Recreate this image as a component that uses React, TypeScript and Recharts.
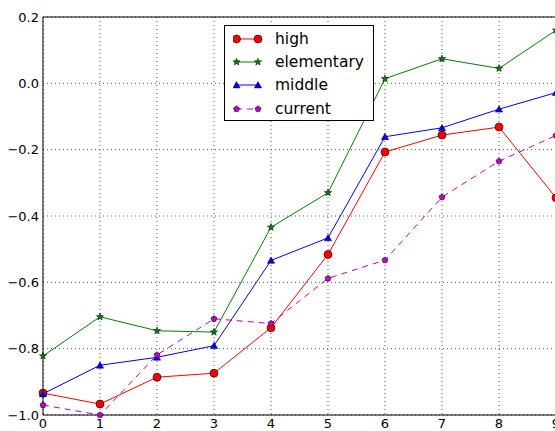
import { LineChart, Line, XAxis, YAxis, CartesianGrid, Legend, ReferenceLine } from "recharts";

const xs = [0, 1, 2, 3, 4, 5, 6, 7, 8, 9];
const high = [-0.934, -0.967, -0.886, -0.874, -0.737, -0.516, -0.207, -0.156, -0.132, -0.345];
const elementary = [-0.822, -0.704, -0.746, -0.75, -0.434, -0.33, 0.014, 0.074, 0.045, 0.16];
const middle = [-0.936, -0.85, -0.826, -0.791, -0.534, -0.466, -0.161, -0.134, -0.078, -0.028];
const current = [-0.97, -1.0, -0.819, -0.71, -0.724, -0.588, -0.533, -0.343, -0.235, -0.157];
const yTicks = [-1.0, -0.8, -0.6, -0.4, -0.2, 0.0, 0.2];

const rows = xs.map((x, i) => ({ x, high: high[i], elementary: elementary[i], middle: middle[i], current: current[i] }));

type Shape = "circle" | "star" | "triangle" | "pentagon";

const series: { key: string; color: string; shape: Shape; dashed?: boolean }[] = [
  { key: "high", color: "#ff0000", shape: "circle" },
  { key: "elementary", color: "#008000", shape: "star" },
  { key: "middle", color: "#0000ff", shape: "triangle" },
  { key: "current", color: "#bf00bf", shape: "pentagon", dashed: true },
];

const FONT = "'DejaVu Sans', sans-serif";

function polygon(cx: number, cy: number, pts: number, rOuter: number, rInner?: number) {
  const out: string[] = [];
  const n = rInner ? pts * 2 : pts;
  for (let i = 0; i < n; i++) {
    const r = rInner && i % 2 === 1 ? rInner : rOuter;
    const a = -Math.PI / 2 + (i * 2 * Math.PI) / n;
    out.push(`${cx + r * Math.cos(a)},${cy + r * Math.sin(a)}`);
  }
  return out.join(" ");
}

function Marker({ cx, cy, shape, color }: { cx: number; cy: number; shape: Shape; color: string }) {
  if (shape === "circle") return <circle cx={cx} cy={cy} r={4} fill={color} stroke="#000" strokeWidth={0.6} />;
  if (shape === "star")
    return <polygon points={polygon(cx, cy, 5, 3.8, 1.6)} fill={color} stroke="#000" strokeWidth={0.5} />;
  if (shape === "triangle")
    return <polygon points={polygon(cx, cy + 0.8, 3, 4.2)} fill={color} stroke="#000" strokeWidth={0.5} />;
  return <polygon points={polygon(cx, cy, 5, 3.2)} fill={color} stroke="#000" strokeWidth={0.5} />;
}

const fmt = (v: number) => v.toFixed(1).replace("-", "\u2212");

function LegendBox() {
  return (
    <div
      style={{
        border: "1px solid #000",
        background: "#fff",
        width: 148,
        padding: "1px 0 0 0",
        fontFamily: FONT,
        fontSize: 15.5,
        color: "#000",
      }}
    >
      {series.map((s) => (
        <div key={s.key} style={{ display: "flex", alignItems: "center", height: 23.3 }}>
          <svg width={30} height={14} style={{ marginLeft: 8, marginRight: 12 }}>
            <line x1={3} y1={7} x2={25} y2={7} stroke={s.color} strokeWidth={1} strokeDasharray={s.dashed ? "6 5" : undefined} />
            <Marker cx={3.5} cy={7} shape={s.shape} color={s.color} />
            <Marker cx={25} cy={7} shape={s.shape} color={s.color} />
          </svg>
          <span>{s.key}</span>
        </div>
      ))}
    </div>
  );
}

export default function App() {
  return (
    <div style={{ position: "absolute", left: 0, top: 0, width: 560, height: 431, background: "#fff" }}>
      <LineChart width={560} height={431} data={rows} margin={{ top: 17, right: 4, bottom: 0, left: 0 }}>
        <CartesianGrid stroke="#555" strokeDasharray="1 3" />
        <XAxis
          dataKey="x"
          type="number"
          domain={[0, 9]}
          ticks={xs}
          height={16}
          tickSize={0}
          tickMargin={4}
          axisLine={{ stroke: "#000" }}
          tick={{ fill: "#000", fontSize: 13, fontFamily: FONT }}
        />
        <YAxis
          type="number"
          domain={[-1, 0.2]}
          ticks={yTicks}
          width={43}
          tickSize={0}
          tickMargin={4}
          tickFormatter={fmt}
          axisLine={{ stroke: "#000" }}
          tick={{ fill: "#000", fontSize: 13, fontFamily: FONT }}
        />
        <ReferenceLine y={0.2} stroke="#000" />
        {series.map((s) => (
          <Line
            key={s.key}
            dataKey={s.key}
            name={s.key}
            type="linear"
            stroke={s.color}
            strokeWidth={1}
            strokeDasharray={s.dashed ? "6 5" : undefined}
            isAnimationActive={false}
            dot={(p: any) => <Marker key={`${s.key}-${p.index}`} cx={p.cx} cy={p.cy} shape={s.shape} color={s.color} />}
            activeDot={false}
          />
        ))}
        <Legend
          layout="vertical"
          align="center"
          verticalAlign="middle"
          content={() => <LegendBox />}
          wrapperStyle={{ position: "absolute", left: 224, top: 25, width: 150 }}
        />
      </LineChart>
    </div>
  );
}
